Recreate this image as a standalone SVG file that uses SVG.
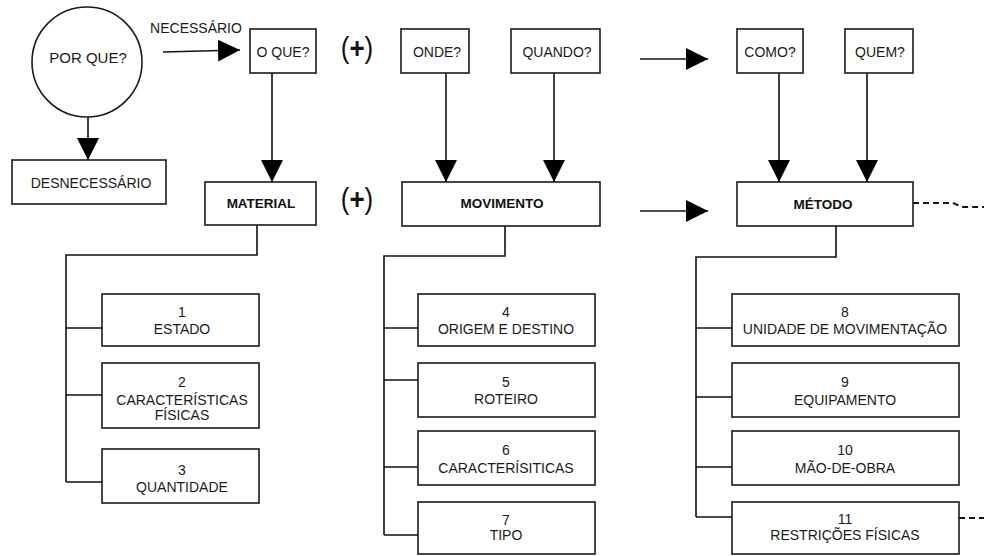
<svg xmlns="http://www.w3.org/2000/svg" width="984" height="556" viewBox="0 0 984 556">
  <style>
    .box { fill: #fff; stroke: #1a1a1a; stroke-width: 1.6; }
    .ln { fill: none; stroke: #111; stroke-width: 1.6; }
    .dash { fill: none; stroke: #111; stroke-width: 2; stroke-dasharray: 6 4; }
    .t { font-family: "Liberation Sans", Arial, sans-serif; font-size: 14px; fill: #1a1a1a; text-anchor: middle; }
    .b { font-family: "Liberation Sans", Arial, sans-serif; font-size: 13.5px; font-weight: bold; fill: #111; text-anchor: middle; }
    .plus { font-family: "Liberation Sans", Arial, sans-serif; font-size: 26px; fill: #111; text-anchor: middle; }
    .plus .pb { font-weight: bold; }
  </style>
  <defs>
    <marker id="head" markerUnits="userSpaceOnUse" markerWidth="22" markerHeight="22" refX="20" refY="10" orient="auto" viewBox="0 0 20 20">
      <path d="M0,0 L20,10 L0,20 Z" fill="#000"/>
    </marker>
  </defs>

  <rect width="984" height="556" fill="#fff"/>

  <!-- connectors -->
  <g id="connectors">
    <!-- arrows -->
    <line class="ln" x1="88" y1="117" x2="88" y2="160" marker-end="url(#head)"/>
    <line class="ln" x1="163" y1="52" x2="240" y2="50" marker-end="url(#head)"/>
    <line class="ln" x1="272" y1="73" x2="272" y2="182" marker-end="url(#head)"/>
    <line class="ln" x1="446" y1="73" x2="446" y2="182" marker-end="url(#head)"/>
    <line class="ln" x1="554" y1="73" x2="554" y2="182" marker-end="url(#head)"/>
    <line class="ln" x1="779" y1="73" x2="779" y2="182" marker-end="url(#head)"/>
    <line class="ln" x1="867" y1="73" x2="867" y2="182" marker-end="url(#head)"/>
    <line class="ln" x1="640" y1="59" x2="708" y2="59" marker-end="url(#head)"/>
    <line class="ln" x1="640" y1="211" x2="708" y2="211" marker-end="url(#head)"/>

    <!-- MATERIAL tree -->
    <path class="ln" d="M257,225 V255 H66 V482"/>
    <path class="ln" d="M66,328 H102 M66,395 H102 M66,482 H102"/>
    <!-- MOVIMENTO tree -->
    <path class="ln" d="M505,226 V256 H384 V535"/>
    <path class="ln" d="M384,328 H418 M384,380 H418 M384,467 H418 M384,535 H418"/>
    <!-- MÉTODO tree -->
    <path class="ln" d="M836,226 V257 H696 V517"/>
    <path class="ln" d="M696,328 H732 M696,397 H732 M696,467 H732 M696,517 H732"/>

    <!-- open continuations -->
    <polyline class="dash" points="913,203 953,203 962,207 984,207"/>
    <line class="dash" x1="959" y1="518" x2="984" y2="518"/>
  </g>

  <text class="t" x="196" y="33">NECESSÁRIO</text>
  <text class="plus" transform="translate(357,58) scale(1,1.15)">(<tspan class="pb">+</tspan>)</text>
  <text class="plus" transform="translate(357,209) scale(1,1.15)">(<tspan class="pb">+</tspan>)</text>

  <g id="porque">
    <circle class="box" cx="87" cy="62" r="55"/>
    <text class="t" x="88" y="63" style="font-size:15px">POR QUE?</text>
  </g>
  <g id="desnecessario">
    <rect class="box" x="12" y="160" width="154" height="44"/>
    <text class="t" x="91" y="188">DESNECESSÁRIO</text>
  </g>

  <g id="oque">
    <rect class="box" x="250" y="29" width="66" height="44"/>
    <text class="t" x="283" y="57">O QUE?</text>
  </g>
  <g id="onde">
    <rect class="box" x="401" y="29" width="68" height="44"/>
    <text class="t" x="437" y="57">ONDE?</text>
  </g>
  <g id="quando">
    <rect class="box" x="511" y="29" width="89" height="44"/>
    <text class="t" x="557" y="57">QUANDO?</text>
  </g>
  <g id="como">
    <rect class="box" x="737" y="29" width="66" height="44"/>
    <text class="t" x="770" y="57">COMO?</text>
  </g>
  <g id="quem">
    <rect class="box" x="845" y="29" width="68" height="44"/>
    <text class="t" x="880" y="57">QUEM?</text>
  </g>

  <g id="material">
    <rect class="box" x="205" y="182" width="111" height="43"/>
    <text class="b" x="261" y="208">MATERIAL</text>
  </g>
  <g id="movimento">
    <rect class="box" x="402" y="182" width="198" height="44"/>
    <text class="b" x="502" y="208">MOVIMENTO</text>
  </g>
  <g id="metodo">
    <rect class="box" x="737" y="182" width="176" height="44"/>
    <text class="b" x="823" y="209">MÉTODO</text>
  </g>

  <!-- MATERIAL items -->
  <g id="item1">
    <rect class="box" x="102" y="294" width="157" height="52"/>
    <text class="t" x="182" y="317">1</text>
    <text class="t" x="182" y="334">ESTADO</text>
  </g>
  <g id="item2">
    <rect class="box" x="102" y="363" width="157" height="65"/>
    <text class="t" x="182" y="387">2</text>
    <text class="t" x="182" y="405">CARACTERÍSTICAS</text>
    <text class="t" x="182" y="420">FÍSICAS</text>
  </g>
  <g id="item3">
    <rect class="box" x="102" y="449" width="157" height="54"/>
    <text class="t" x="182" y="475">3</text>
    <text class="t" x="182" y="492">QUANTIDADE</text>
  </g>

  <!-- MOVIMENTO items -->
  <g id="item4">
    <rect class="box" x="418" y="294" width="177" height="52"/>
    <text class="t" x="506" y="317">4</text>
    <text class="t" x="506" y="334">ORIGEM E DESTINO</text>
  </g>
  <g id="item5">
    <rect class="box" x="418" y="363" width="177" height="54"/>
    <text class="t" x="506" y="387">5</text>
    <text class="t" x="506" y="404">ROTEIRO</text>
  </g>
  <g id="item6">
    <rect class="box" x="418" y="431" width="177" height="54"/>
    <text class="t" x="506" y="455">6</text>
    <text class="t" x="506" y="473">CARACTERÍSITICAS</text>
  </g>
  <g id="item7">
    <rect class="box" x="418" y="502" width="177" height="52"/>
    <text class="t" x="506" y="525">7</text>
    <text class="t" x="506" y="540">TIPO</text>
  </g>

  <!-- MÉTODO items -->
  <g id="item8">
    <rect class="box" x="732" y="294" width="227" height="52"/>
    <text class="t" x="845" y="317">8</text>
    <text class="t" x="845" y="334">UNIDADE DE MOVIMENTAÇÃO</text>
  </g>
  <g id="item9">
    <rect class="box" x="732" y="363" width="227" height="54"/>
    <text class="t" x="845" y="387">9</text>
    <text class="t" x="845" y="405">EQUIPAMENTO</text>
  </g>
  <g id="item10">
    <rect class="box" x="732" y="431" width="227" height="54"/>
    <text class="t" x="845" y="455">10</text>
    <text class="t" x="845" y="473">MÃO-DE-OBRA</text>
  </g>
  <g id="item11">
    <rect class="box" x="732" y="502" width="227" height="52"/>
    <text class="t" x="845" y="524">11</text>
    <text class="t" x="845" y="540">RESTRIÇÕES FÍSICAS</text>
  </g>
</svg>
